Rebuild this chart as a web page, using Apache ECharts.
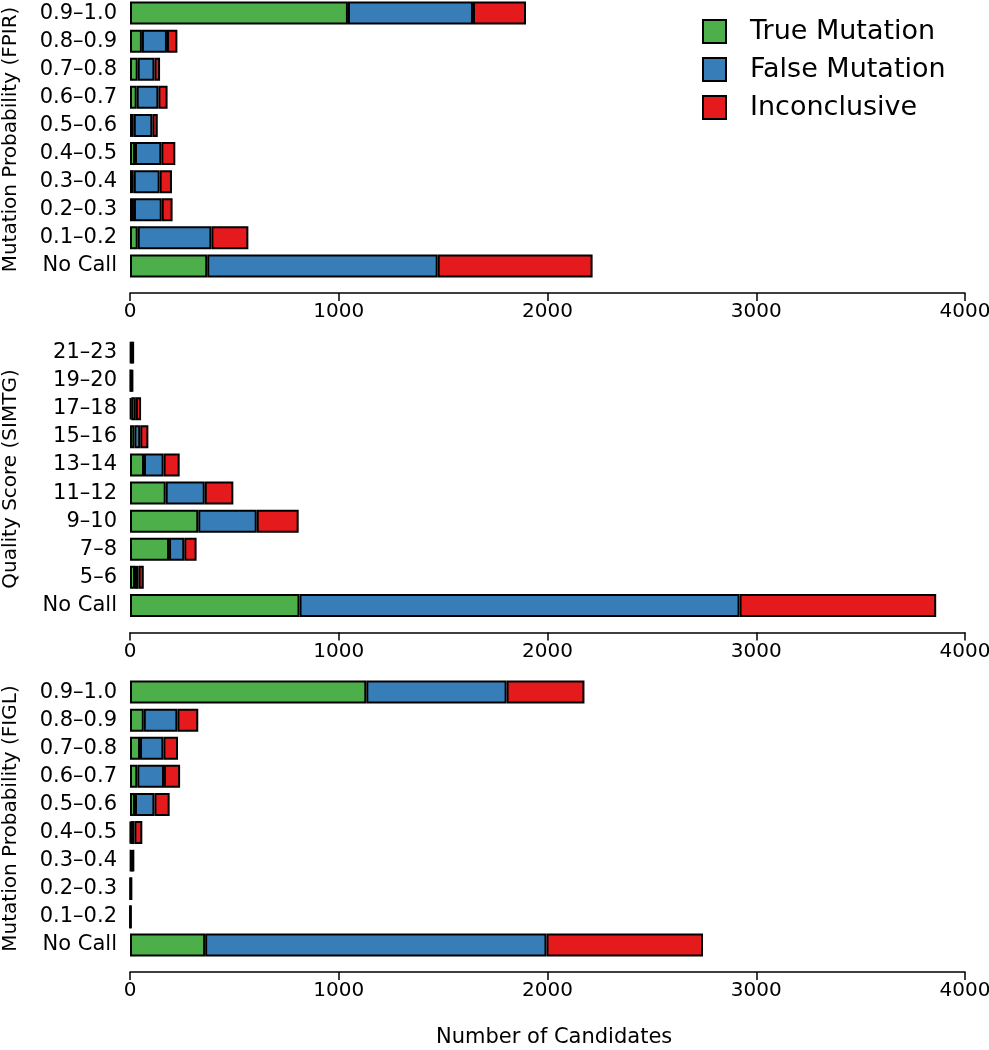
<!DOCTYPE html>
<html>
<head>
<meta charset="utf-8">
<script src="https://cdn.jsdelivr.net/npm/echarts@6/dist/echarts.min.js"></script>
<style>
html,body{margin:0;padding:0;background:#fff;}
#chart{width:989px;height:1050px;}
</style>
</head>
<body>
<div id="chart"></div>
<script>
// ---- data ----
const seriesNames = ['True Mutation', 'False Mutation', 'Inconclusive'];

const fpirCats  = ['0.9–1.0','0.8–0.9','0.7–0.8','0.6–0.7','0.5–0.6','0.4–0.5','0.3–0.4','0.2–0.3','0.1–0.2','No Call'];
const fpirTrue  = [1044, 57, 37, 32, 18, 24, 18, 19, 37, 370];
const fpirFalse = [599, 120, 80, 104, 89, 126, 124, 133, 353, 1104];
const fpirInc   = [254, 50, 27, 44, 26, 67, 59, 52, 177, 742];

const simtgCats  = ['21–23','19–20','17–18','15–16','13–14','11–12','9–10','7–8','5–6','No Call'];
const simtgTrue  = [6, 4, 6, 21, 67, 171, 327, 187, 24, 812];
const simtgFalse = [6, 5, 22, 28, 94, 187, 280, 73, 17, 2108];
const simtgInc   = [6, 5, 25, 39, 77, 137, 201, 59, 25, 942];

const figlCats  = ['0.9–1.0','0.8–0.9','0.7–0.8','0.6–0.7','0.5–0.6','0.4–0.5','0.3–0.4','0.2–0.3','0.1–0.2','No Call'];
const figlTrue  = [1132, 66, 48, 35, 24, 4, 6, 2, 1, 360];
const figlFalse = [672, 161, 112, 128, 93, 17, 7, 3, 2, 1635];
const figlInc   = [373, 100, 70, 77, 73, 38, 6, 3, 2, 750];

const xTicks = { min: 0, max: 4000, interval: 1000 };
const panelTitles = ['Mutation Probability (FPIR)', 'Quality Score (SIMTG)', 'Mutation Probability (FIGL)'];
const xTitle = 'Number of Candidates';

// ---- build ----
const colors = ['#4DAF4A', '#377EB8', '#E41A1C'];
const FONT = 'DejaVu Sans';
const panels = [
  { cats: fpirCats,  vals: [fpirTrue, fpirFalse, fpirInc],   top: -1 },
  { cats: simtgCats, vals: [simtgTrue, simtgFalse, simtgInc], top: 338.5 },
  { cats: figlCats,  vals: [figlTrue, figlFalse, figlInc],   top: 678 }
];

const grids = [], xAxes = [], yAxes = [], series = [];
panels.forEach((p, i) => {
  grids.push({ left: 130, width: 835, top: p.top, height: 281, containLabel: false, outerBoundsMode: 'none' });
  xAxes.push({
    gridIndex: i, type: 'value', min: xTicks.min, max: xTicks.max, interval: xTicks.interval,
    position: 'bottom', offset: 13,
    axisLine: { show: true, lineStyle: { color: '#000', width: 1.5 } },
    axisTick: { show: true, inside: false, length: 8, lineStyle: { color: '#000', width: 1.5 } },
    axisLabel: { color: '#000', fontSize: 20, fontFamily: FONT, margin: 9, formatter: v => String(v) },
    splitLine: { show: false }
  });
  yAxes.push({
    gridIndex: i, type: 'category', data: p.cats, inverse: true,
    axisLine: { show: false }, axisTick: { show: false },
    axisLabel: { color: '#000', fontSize: 21, fontFamily: FONT, margin: 13 },
    name: panelTitles[i], nameLocation: 'middle', nameRotate: 90, nameGap: 109,
    nameTextStyle: { color: '#000', fontSize: 20, fontFamily: FONT }
  });
  seriesNames.forEach((nm, k) => {
    series.push({
      name: nm, type: 'bar', stack: 'p' + i, xAxisIndex: i, yAxisIndex: i,
      data: p.vals[k], barWidth: 23,
      itemStyle: { color: colors[k], borderColor: '#000', borderWidth: 2 },
      emphasis: { disabled: true }
    });
  });
});

const chart = echarts.init(document.getElementById('chart'), null, { renderer: 'canvas' });
chart.setOption({
  animation: false,
  backgroundColor: '#fff',
  grid: grids, xAxis: xAxes, yAxis: yAxes, series: series,
  legend: {
    data: seriesNames, orient: 'vertical', left: 697, top: 13,
    itemWidth: 23, itemHeight: 23, itemGap: 11, selectedMode: false,
    icon: 'rect',
    textStyle: { color: '#000', fontSize: 27, fontFamily: FONT, padding: [0, 0, 0, 19], lineHeight: 27 }
  },
  graphic: [{
    type: 'text', left: 436, top: 1027,
    style: { text: xTitle, fontSize: 21, fontFamily: FONT, fill: '#000' }
  }]
});
</script>
</body>
</html>
